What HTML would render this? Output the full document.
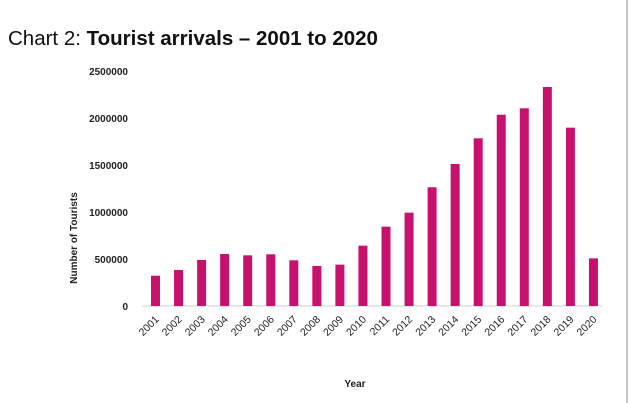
<!DOCTYPE html>
<html><head><meta charset="utf-8"><style>
body{margin:0;width:640px;height:403px;background:#fff;overflow:hidden;font-family:"Liberation Sans",sans-serif}
</style></head><body>
<div style="position:absolute;left:8px;top:27px;font-size:20.5px;color:#111;white-space:nowrap">Chart 2: <b>Tourist arrivals – 2001 to 2020</b></div>
<div style="position:absolute;left:626px;top:0;width:2px;height:403px;background:#c8c8c8"></div>
<svg id="c" width="640" height="403" style="position:absolute;left:0;top:0"></svg>
<script>
const years=["2001","2002","2003","2004","2005","2006","2007","2008","2009","2010","2011","2012","2013","2014","2015","2016","2017","2018","2019","2020"];
const tourists=[322000,383000,490000,553000,539000,550000,486000,426000,440000,642000,844000,993000,1263000,1511000,1784000,2035000,2103000,2330000,1897000,507000];
const yTicks=[0,500000,1000000,1500000,2000000,2500000];
const NS="http://www.w3.org/2000/svg",svg=document.getElementById('c');
const y0=306,pxPer=47/500000,x0=155.5,step=23.05,bw=9;
const Y=v=>y0-v*pxPer, X=i=>x0+i*step;
function mk(t,a,txt){const e=document.createElementNS(NS,t);for(const k in a)e.setAttribute(k,a[k]);if(txt!==undefined)e.textContent=txt;svg.appendChild(e);return e;}
const ax=mk('line',{x1:142,x2:602,y1:y0,y2:y0,stroke:'#d0d0d0','stroke-width':1});


yTicks.forEach(v=>{const t=mk('text',{x:128,y:Y(v)+4,'text-anchor':'end','font-size':'10','font-weight':'bold',fill:'#222'},String(v));

});
tourists.forEach((v,i)=>{const r=mk('rect',{x:X(i)-bw/2,y:Y(v),width:bw,height:y0-Y(v),fill:'#c8106e'});


const cx=X(i)+4,cy=y0+14;
const t=mk('text',{x:cx,y:cy,'text-anchor':'end','font-size':'10.5',fill:'#222',transform:'rotate(-45 '+cx+' '+cy+')'},years[i]);

});
const yt=mk('text',{x:0,y:0,'text-anchor':'middle','font-size':'10','font-weight':'bold',fill:'#222',transform:'translate(77 238) rotate(-90)'},'Number of Tourists');


const xt=mk('text',{x:355,y:387,'text-anchor':'middle','font-size':'10','font-weight':'bold',fill:'#222'},'Year');


</script>
</body></html>
